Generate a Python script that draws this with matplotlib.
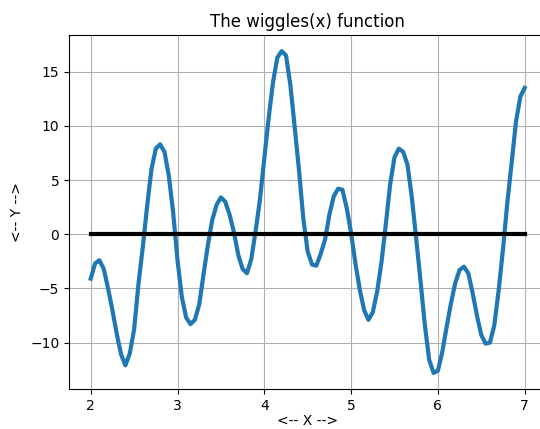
import matplotlib
matplotlib.use("Agg")
import matplotlib.pyplot as plt

# valores
x = [2.00, 2.05, 2.10, 2.15, 2.20, 2.25, 2.30, 2.35, 2.40, 2.45,
     2.50, 2.55, 2.60, 2.65, 2.70, 2.75, 2.80, 2.85, 2.90, 2.95,
     3.00, 3.05, 3.10, 3.15, 3.20, 3.25, 3.30, 3.35, 3.40, 3.45,
     3.50, 3.55, 3.60, 3.65, 3.70, 3.75, 3.80, 3.85, 3.90, 3.95,
     4.00, 4.05, 4.10, 4.15, 4.20, 4.25, 4.30, 4.35, 4.40, 4.45,
     4.50, 4.55, 4.60, 4.65, 4.70, 4.75, 4.80, 4.85, 4.90, 4.95,
     5.00, 5.05, 5.10, 5.15, 5.20, 5.25, 5.30, 5.35, 5.40, 5.45,
     5.50, 5.55, 5.60, 5.65, 5.70, 5.75, 5.80, 5.85, 5.90, 5.95,
     6.00, 6.05, 6.10, 6.15, 6.20, 6.25, 6.30, 6.35, 6.40, 6.45,
     6.50, 6.55, 6.60, 6.65, 6.70, 6.75, 6.80, 6.85, 6.90, 6.95,
     7.00]
y = [-4.1, -2.7, -2.4, -3.2, -5.0, -7.0, -9.2, -11.1, -12.1, -11.0,
     -8.8, -4.6, -1.2, 2.6, 6.0, 7.9, 8.3, 7.6, 5.4, 2.0,
     -2.4, -5.8, -7.7, -8.3, -7.9, -6.5, -3.7, -1.0, 1.3, 2.7,
     3.4, 3.0, 1.8, 0.2, -1.9, -3.2, -3.6, -2.3, 0.3, 3.2,
     7.0, 10.7, 14.0, 16.3, 16.9, 16.5, 13.8, 9.9, 5.9, 1.4,
     -1.6, -2.8, -2.9, -1.8, -0.5, 1.8, 3.5, 4.2, 4.1, 2.4,
     0.1, -2.7, -5.1, -7.0, -7.9, -7.2, -5.3, -2.6, 0.9, 4.6,
     7.1, 7.9, 7.6, 6.4, 3.4, -0.4, -4.3, -8.4, -11.6, -12.8,
     -12.6, -10.9, -8.6, -6.4, -4.5, -3.3, -3.0, -3.6, -5.4, -7.5,
     -9.3, -10.1, -10.0, -8.4, -5.2, -1.4, 2.9, 6.6, 10.4, 12.7,
     13.5]
zero_x = [2, 7]
zero_y = [0, 0]

fig = plt.figure(figsize=(5.4, 4.29), dpi=100)
ax = fig.add_axes([0.1278, 0.0932, 0.884, 0.8252])
ax.plot(x, y, linewidth=3)
ax.plot(zero_x, zero_y, color="black", linewidth=3)
ax.set_title("The wiggles(x) function")
ax.set_xlabel("<-- X -->", labelpad=1)
ax.set_ylabel("<-- Y -->")
ax.grid(True)

fig.savefig("out.png", dpi=100)
